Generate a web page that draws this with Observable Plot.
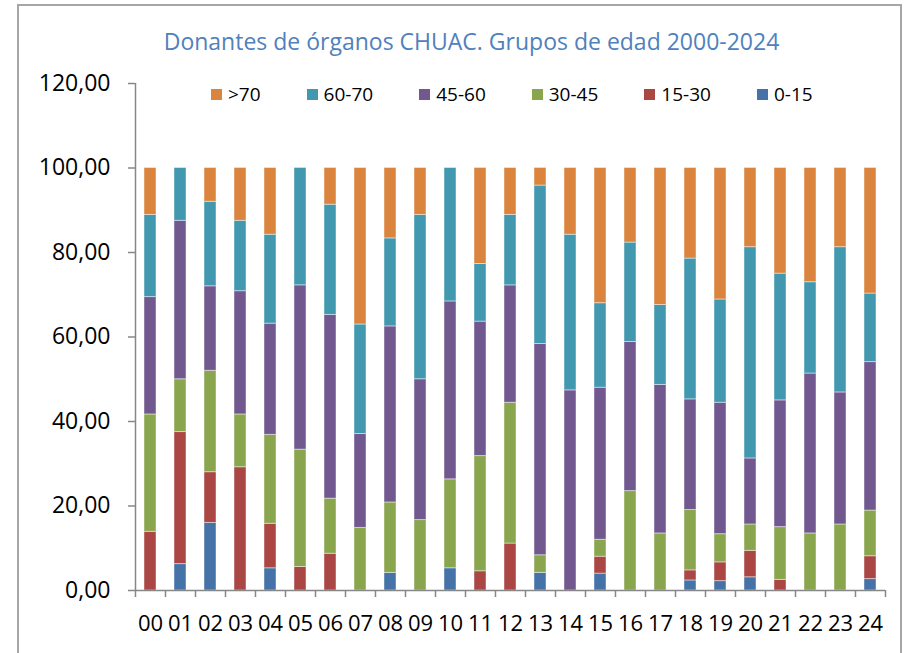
<!DOCTYPE html>
<html><head><meta charset="utf-8">
<script src="https://cdn.jsdelivr.net/npm/d3@7"></script>
<script src="https://cdn.jsdelivr.net/npm/@observablehq/plot@0.6"></script>
<style>
body{margin:0;background:#fff;overflow:hidden}
#wrap{position:relative;width:908px;height:653px;font-family:"Open Sans",sans-serif;overflow:hidden}
#border{position:absolute;left:17px;top:4px;width:885px;height:720px;border:2px solid #a6a6a6;box-sizing:border-box;pointer-events:none}
#title{position:absolute;left:0;top:30px;width:943px;text-align:center;font-size:23px;line-height:23px;color:#4F81BD;white-space:nowrap}
#legend{position:absolute;left:211px;top:85px;display:flex;gap:46px;font-size:19px;line-height:19px;color:#000}
#legend .it{display:flex;align-items:center;gap:6px}
#legend .sw{width:11px;height:11px;display:inline-block}
#chart{position:absolute;left:0;top:0}
</style></head>
<body>
<div id="wrap">
  <div id="chart"></div>
  <div id="title">Donantes de órganos CHUAC. Grupos de edad 2000-2024</div>
  <div id="legend"></div>
  <div id="border"></div>
</div>
<script>
const years = ["00","01","02","03","04","05","06","07","08","09","10","11","12","13","14","15","16","17","18","19","20","21","22","23","24"];
const groups = ["0-15","15-30","30-45","45-60","60-70",">70"];
const colors = ["#4572A7","#AA4643","#89A54E","#71588F","#4198AF","#DB843D"];
const legendOrder = [">70","60-70","45-60","30-45","15-30","0-15"];
const yTicks = [0,20,40,60,80,100,120];

const g0_15  = [0,6.25,16,0,5.26,0,0,0,4.17,0,5.26,0,0,4.17,0,4,0,0,2.38,2.22,3.13,0,0,0,2.70];
const g15_30 = [13.89,31.25,12,29.17,10.53,5.56,8.70,0,0,0,0,4.55,11.11,0,0,4,0,0,2.38,4.44,6.25,2.5,0,0,5.41];
const g30_45 = [27.78,12.5,24,12.5,21.05,27.78,13.04,14.81,16.67,16.67,21.05,27.27,33.33,4.17,0,4,23.53,13.51,14.29,6.67,6.25,12.5,13.51,15.63,10.81];
const g45_60 = [27.78,37.5,20,29.17,26.32,38.89,43.48,22.22,41.67,33.33,42.11,31.82,27.78,50,47.37,36,35.29,35.14,26.19,31.11,15.63,30,37.84,31.25,35.14];
const g60_70 = [19.44,12.5,20,16.67,21.05,27.78,26.09,25.93,20.83,38.89,31.58,13.64,16.67,37.5,36.84,20,23.53,18.92,33.33,24.44,50,30,21.62,34.38,16.22];
const g70    = [11.11,0,8,12.5,15.79,0,8.70,37.04,16.67,11.11,0,22.73,11.11,4.17,15.79,32,17.65,32.43,21.43,31.11,18.75,25,27.03,18.75,29.73];

const series = [g0_15,g15_30,g30_45,g45_60,g60_70,g70];
const data = [];
groups.forEach((g,gi)=>series[gi].forEach((v,i)=>{ if(v>0) data.push({i, year:years[i], group:g, value:v}); }));

const idx = years.map((_,i)=>i);
const bounds = d3.range(-0.5, years.length, 1);
const axisColor = "#878787";

const chart = Plot.plot({
  width: 908, height: 653,
  marginLeft: 135, marginRight: 23, marginTop: 83, marginBottom: 63,
  style: {fontFamily: "'Open Sans', sans-serif", fontSize: "22px", color: "#000", background: "transparent"},
  x: {type: "linear", domain: [-0.5, years.length - 0.5], axis: null},
  y: {domain: [yTicks[0], yTicks[yTicks.length-1]], axis: null},
  color: {domain: groups, range: colors},
  marks: [
    Plot.rectY(data, Plot.stackY({x1: d=>d.i-0.5, x2: d=>d.i+0.5, y: "value", fill: "group", insetLeft: 9, insetRight: 9, stroke: "white", strokeOpacity: 0.45, strokeWidth: 1})),
    Plot.ruleY([yTicks[0]], {stroke: axisColor, strokeWidth: 1.5}),
    Plot.ruleX([bounds[0]], {stroke: axisColor, strokeWidth: 1.5}),
    Plot.axisY({ticks: yTicks, tickFormat: d=>d.toFixed(2).replace(".",","), tickSize: 7, tickPadding: 18, stroke: axisColor, strokeWidth: 1.5, fill: "#000", fontSize: 23, label: null}),
    Plot.axisX({ticks: bounds, tickSize: 7, tickFormat: () => "", stroke: axisColor, strokeWidth: 1.5, label: null}),
    Plot.axisX({ticks: idx, tickSize: 0, tickPadding: 25, tickFormat: i=>years[i], fill: "#000", fontSize: 22, label: null})
  ]
});
document.getElementById("chart").appendChild(chart);

const leg = document.getElementById("legend");
legendOrder.forEach(g=>{
  const it = document.createElement("div"); it.className = "it";
  const sw = document.createElement("span"); sw.className = "sw"; sw.style.background = colors[groups.indexOf(g)];
  const tx = document.createElement("span"); tx.textContent = g;
  it.appendChild(sw); it.appendChild(tx); leg.appendChild(it);
});
</script>
</body></html>
